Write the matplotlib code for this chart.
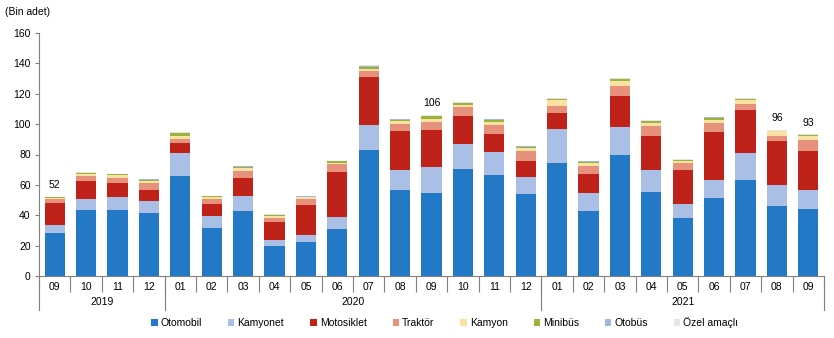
import matplotlib
matplotlib.use("Agg")
import matplotlib.pyplot as plt
import matplotlib.transforms as mtransforms
from matplotlib.patches import Patch
import numpy as np

plt.rcParams['font.family'] = ['Liberation Sans', 'DejaVu Sans']

months = ["09", "10", "11", "12",
          "01", "02", "03", "04", "05", "06", "07", "08", "09", "10", "11", "12",
          "01", "02", "03", "04", "05", "06", "07", "08", "09"]
years = ["2019", "2020", "2021"]
year_counts = [4, 12, 9]

otomobil   = [28.5, 43.5, 43.5, 41.8, 65.9, 31.6, 43.1, 20.0, 22.4, 31.0, 83.1, 56.7, 54.9, 70.5, 66.6, 54.1, 74.7, 43.1, 80.0, 55.4, 38.2, 51.6, 63.5, 46.4, 44.4]
kamyonet   = [5.0, 7.3, 8.6, 7.7, 15.0, 8.0, 9.6, 3.7, 4.6, 7.9, 16.5, 13.2, 17.0, 16.5, 15.2, 11.2, 22.4, 11.8, 17.8, 14.1, 9.3, 11.3, 17.2, 13.2, 11.9]
motosiklet = [14.8, 11.8, 9.2, 7.2, 6.6, 7.9, 11.9, 12.1, 20.0, 29.7, 31.2, 25.7, 24.4, 18.1, 12.0, 10.5, 10.4, 12.1, 20.4, 22.4, 22.0, 31.6, 28.3, 29.0, 26.3]
traktor    = [2.4, 3.3, 3.5, 4.4, 2.8, 3.3, 4.6, 2.3, 3.8, 5.0, 4.4, 4.6, 5.2, 5.9, 5.8, 6.8, 4.6, 5.7, 7.1, 6.6, 4.6, 6.2, 4.0, 3.9, 7.1]
kamyon     = [0.8, 1.4, 1.6, 1.3, 1.8, 1.1, 1.6, 1.6, 1.1, 1.1, 1.3, 1.8, 2.2, 1.7, 1.9, 1.4, 3.5, 2.0, 3.3, 2.4, 1.7, 2.2, 2.8, 2.7, 2.4]
minibus    = [0.3, 0.6, 0.5, 1.1, 2.0, 0.6, 1.1, 0.5, 0.4, 0.7, 1.3, 0.9, 1.6, 1.1, 1.4, 1.1, 0.9, 0.6, 1.1, 1.1, 0.6, 1.3, 0.7, 0.4, 0.6]
otobus     = [0.1, 0.1, 0.1, 0.1, 0.3, 0.2, 0.2, 0.1, 0.1, 0.2, 0.4, 0.2, 0.3, 0.3, 0.3, 0.3, 0.3, 0.2, 0.3, 0.3, 0.2, 0.2, 0.3, 0.2, 0.2]
ozel       = [0.1, 0.2, 0.1, 0.2, 0.3, 0.2, 0.2, 0.3, 0.2, 0.3, 0.5, 0.3, 0.3, 0.3, 0.3, 0.3, 0.3, 0.3, 0.3, 0.3, 0.3, 0.2, 0.3, 0.2, 0.3]

series_names = ["Otomobil", "Kamyonet", "Motosiklet", "Traktör", "Kamyon", "Minibüs", "Otobüs", "Özel amaçlı"]
series = [otomobil, kamyonet, motosiklet, traktor, kamyon, minibus, otobus, ozel]
colors = ["#2479C7", "#A9BFE6", "#BF2219", "#E5917B", "#FBE2A0", "#9AB33C", "#9FB8DC", "#E6E6E6"]

# labelled bars: index -> label
labels_idx = [0, 12, 23, 24]
labels_txt = ["52", "106", "96", "93"]

W, H = 834, 338
fig = plt.figure(figsize=(W / 100, H / 100), dpi=100)
ax = fig.add_axes([39 / W, (H - 276) / H, (824 - 39) / W, (276 - 33) / H])

x = np.arange(len(months))
bottom = np.zeros(len(months))
for vals, c, name in zip(series, colors, series_names):
    v = np.array(vals)
    ax.bar(x, v, 0.64, bottom=bottom, color=c, label=name, linewidth=0)
    bottom += v

for i, t in zip(labels_idx, labels_txt):
    ax.annotate(t, (x[i], bottom[i]), xytext=(0, 5), textcoords="offset points",
                ha="center", va="bottom", fontsize=7.5)

ax.set_xlim(-0.5, len(months) - 0.5)
ax.set_ylim(0, 160)
ax.set_yticks(np.arange(0, 161, 20))
ax.tick_params(axis="y", labelsize=7.5, length=3, width=0.8, color="#808080", pad=3)
for s in ["top", "right"]:
    ax.spines[s].set_visible(False)
ax.spines["left"].set_color("#808080")
ax.spines["bottom"].set_color("#808080")

# month labels and separators
ax.set_xticks(np.arange(-0.5, len(months), 1.0))
ax.set_xticklabels([])
ax.tick_params(axis="x", which="major", length=11.5, width=0.8, color="#808080", direction="out")
ax.set_xticks(x, minor=True)
ax.set_xticklabels(months, minor=True)
ax.tick_params(axis="x", which="minor", length=0, labelsize=7.5, pad=4)

trans = mtransforms.blended_transform_factory(ax.transData, ax.transAxes)
px = 1.0 / (276 - 33)  # one pixel in axes fraction
# year separators
bounds = [-0.5]
for n in year_counts:
    bounds.append(bounds[-1] + n)
for b in bounds:
    ax.plot([b, b], [0, -34 * px], transform=trans, color="#808080", lw=0.8, clip_on=False)
start = -0.5
for yname, n in zip(years, year_counts):
    ax.text(start + n / 2, -26 * px, yname, transform=trans, ha="center", va="center", fontsize=7.5)
    start += n

fig.text(5 / W, 1 - 12 / H, "(Bin adet)", fontsize=7.5, ha="left", va="center")

handles = [Patch(facecolor=c, edgecolor="none") for c in colors]
fig.legend(handles, series_names, loc="center", bbox_to_anchor=(445 / W, 1 - 323 / H),
           ncol=8, frameon=False, fontsize=7.5, handlelength=0.6, handleheight=0.6,
           handletextpad=0.3, columnspacing=2.5)

fig.savefig("out.png", dpi=100)
